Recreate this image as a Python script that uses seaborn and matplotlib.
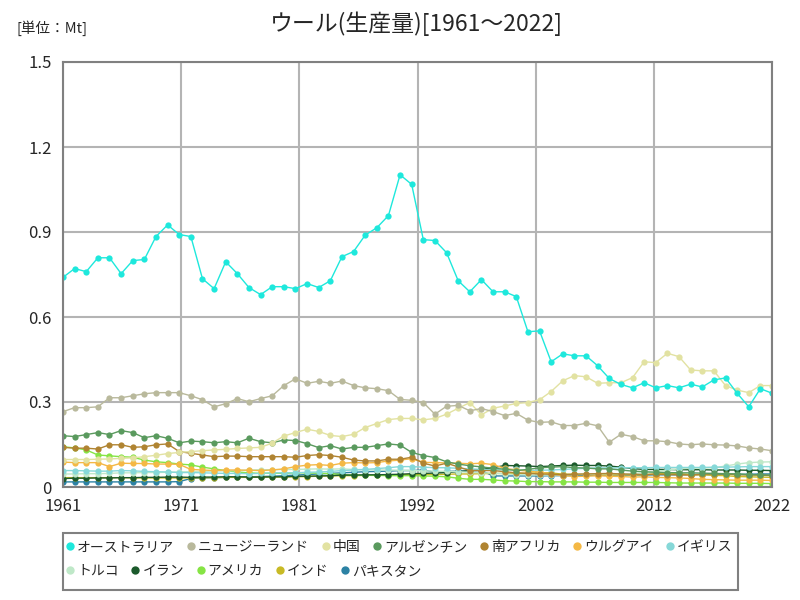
import numpy as np
import pandas as pd
import matplotlib
matplotlib.use("Agg")
import matplotlib.pyplot as plt
from matplotlib.lines import Line2D
from matplotlib.patches import Rectangle
import seaborn as sns

years = list(range(1961, 2023))

countries = ['オーストラリア', 'ニュージーランド', '中国', 'アルゼンチン', '南アフリカ', 'ウルグアイ',
             'イギリス', 'トルコ', 'イラン', 'アメリカ', 'インド', 'パキスタン']
colors = ['#1ee8dc', '#b9b99c', '#e2e2a2', '#5a9a5e', '#b08432', '#f4b845',
          '#86d8d8', '#bfe8c8', '#1c5a2c', '#86e444', '#c8ba26', '#2c82a4']

australia = [0.740, 0.771, 0.760, 0.809, 0.809, 0.753, 0.799, 0.803, 0.884, 0.925,
             0.891, 0.884, 0.735, 0.700, 0.795, 0.753, 0.704, 0.679, 0.707, 0.707,
             0.700, 0.718, 0.704, 0.728, 0.813, 0.831, 0.889, 0.915, 0.958, 1.102,
             1.068, 0.873, 0.870, 0.827, 0.728, 0.689, 0.732, 0.689, 0.689, 0.672,
             0.548, 0.551, 0.442, 0.470, 0.463, 0.463, 0.428, 0.383, 0.362, 0.350,
             0.368, 0.350, 0.358, 0.350, 0.363, 0.353, 0.378, 0.385, 0.331, 0.283,
             0.347, 0.331]
new_zealand = [0.266, 0.280, 0.280, 0.283, 0.315, 0.315, 0.322, 0.329, 0.333, 0.333,
               0.333, 0.322, 0.308, 0.283, 0.294, 0.312, 0.301, 0.312, 0.322, 0.358,
               0.382, 0.366, 0.373, 0.366, 0.374, 0.358, 0.350, 0.347, 0.340, 0.309,
               0.306, 0.298, 0.257, 0.285, 0.288, 0.269, 0.277, 0.266, 0.252, 0.260,
               0.236, 0.228, 0.230, 0.217, 0.217, 0.225, 0.216, 0.158, 0.186, 0.178,
               0.163, 0.163, 0.160, 0.152, 0.149, 0.152, 0.149, 0.148, 0.145, 0.138,
               0.134, 0.128]
china = [0.097, 0.097, 0.097, 0.098, 0.099, 0.101, 0.103, 0.107, 0.112, 0.118,
         0.122, 0.125, 0.128, 0.131, 0.133, 0.136, 0.138, 0.140, 0.155, 0.180,
         0.192, 0.204, 0.196, 0.182, 0.178, 0.186, 0.210, 0.224, 0.238, 0.242,
         0.242, 0.237, 0.242, 0.257, 0.278, 0.298, 0.255, 0.278, 0.286, 0.295,
         0.298, 0.308, 0.337, 0.375, 0.393, 0.389, 0.366, 0.368, 0.368, 0.386,
         0.442, 0.439, 0.472, 0.460, 0.413, 0.410, 0.410, 0.358, 0.342, 0.333,
         0.358, 0.358]
argentina = [0.181, 0.178, 0.185, 0.192, 0.185, 0.199, 0.192, 0.174, 0.181, 0.172,
             0.156, 0.162, 0.160, 0.156, 0.160, 0.156, 0.172, 0.160, 0.156, 0.166,
             0.164, 0.153, 0.139, 0.146, 0.134, 0.140, 0.140, 0.146, 0.152, 0.148,
             0.122, 0.111, 0.104, 0.089, 0.081, 0.075, 0.071, 0.066, 0.063, 0.058,
             0.062, 0.068, 0.070, 0.072, 0.068, 0.067, 0.064, 0.064, 0.060, 0.056,
             0.054, 0.052, 0.051, 0.050, 0.050, 0.049, 0.048, 0.047, 0.046, 0.044,
             0.043, 0.042]
south_africa = [0.140, 0.137, 0.137, 0.134, 0.149, 0.149, 0.140, 0.142, 0.149, 0.152,
                0.125, 0.119, 0.113, 0.107, 0.109, 0.109, 0.107, 0.107, 0.107, 0.107,
                0.105, 0.111, 0.114, 0.111, 0.105, 0.095, 0.092, 0.092, 0.098, 0.098,
                0.105, 0.084, 0.074, 0.084, 0.071, 0.058, 0.058, 0.058, 0.054, 0.050,
                0.048, 0.046, 0.045, 0.044, 0.045, 0.046, 0.047, 0.048, 0.046, 0.045,
                0.044, 0.045, 0.044, 0.043, 0.042, 0.045, 0.047, 0.046, 0.043, 0.042,
                0.042, 0.040]
uruguay = [0.088, 0.086, 0.086, 0.086, 0.072, 0.084, 0.083, 0.083, 0.081, 0.081,
           0.080, 0.062, 0.060, 0.058, 0.060, 0.060, 0.059, 0.058, 0.060, 0.064,
           0.072, 0.077, 0.079, 0.076, 0.084, 0.086, 0.085, 0.086, 0.092, 0.095,
           0.100, 0.087, 0.086, 0.085, 0.084, 0.082, 0.084, 0.079, 0.066, 0.060,
           0.056, 0.052, 0.046, 0.040, 0.037, 0.038, 0.040, 0.038, 0.037, 0.035,
           0.036, 0.034, 0.033, 0.032, 0.030, 0.027, 0.026, 0.025, 0.024, 0.024,
           0.024, 0.023]
uk = [0.058, 0.058, 0.057, 0.056, 0.056, 0.058, 0.057, 0.055, 0.054, 0.053,
      0.051, 0.051, 0.050, 0.049, 0.048, 0.048, 0.047, 0.048, 0.050, 0.050,
      0.050, 0.052, 0.053, 0.055, 0.058, 0.060, 0.062, 0.065, 0.068, 0.072,
      0.072, 0.070, 0.068, 0.068, 0.066, 0.064, 0.062, 0.061, 0.060, 0.062,
      0.058, 0.059, 0.060, 0.062, 0.064, 0.066, 0.068, 0.067, 0.068, 0.068,
      0.068, 0.069, 0.069, 0.069, 0.069, 0.069, 0.070, 0.070, 0.071, 0.072,
      0.072, 0.072]
turkey = [0.046, 0.046, 0.047, 0.047, 0.048, 0.050, 0.050, 0.051, 0.051, 0.052,
          0.053, 0.054, 0.055, 0.056, 0.057, 0.058, 0.060, 0.061, 0.061, 0.062,
          0.062, 0.063, 0.064, 0.063, 0.064, 0.062, 0.061, 0.060, 0.060, 0.059,
          0.058, 0.057, 0.056, 0.055, 0.054, 0.052, 0.050, 0.049, 0.046, 0.044,
          0.043, 0.042, 0.042, 0.043, 0.044, 0.045, 0.046, 0.047, 0.047, 0.047,
          0.050, 0.054, 0.060, 0.064, 0.066, 0.067, 0.068, 0.074, 0.081, 0.086,
          0.088, 0.089]
iran = [0.030, 0.031, 0.031, 0.032, 0.032, 0.033, 0.033, 0.034, 0.034, 0.035,
        0.035, 0.034, 0.035, 0.035, 0.036, 0.036, 0.035, 0.035, 0.036, 0.036,
        0.038, 0.038, 0.039, 0.040, 0.042, 0.042, 0.043, 0.043, 0.044, 0.045,
        0.047, 0.048, 0.049, 0.051, 0.054, 0.058, 0.062, 0.068, 0.076, 0.075,
        0.074, 0.072, 0.074, 0.076, 0.077, 0.076, 0.076, 0.074, 0.070, 0.065,
        0.062, 0.062, 0.062, 0.061, 0.061, 0.061, 0.060, 0.060, 0.060, 0.059,
        0.059, 0.058]
usa = [0.142, 0.138, 0.131, 0.113, 0.110, 0.107, 0.105, 0.095, 0.089, 0.086,
       0.081, 0.078, 0.070, 0.064, 0.058, 0.053, 0.050, 0.048, 0.049, 0.048,
       0.050, 0.050, 0.049, 0.047, 0.044, 0.042, 0.041, 0.041, 0.040, 0.040,
       0.040, 0.039, 0.038, 0.036, 0.031, 0.027, 0.027, 0.025, 0.022, 0.021,
       0.019, 0.019, 0.018, 0.018, 0.018, 0.017, 0.017, 0.016, 0.016, 0.016,
       0.016, 0.016, 0.015, 0.014, 0.014, 0.014, 0.014, 0.014, 0.013, 0.013,
       0.013, 0.012]
india = [0.033, 0.033, 0.033, 0.033, 0.033, 0.033, 0.032, 0.032, 0.032, 0.032,
         0.032, 0.032, 0.033, 0.033, 0.034, 0.034, 0.034, 0.035, 0.035, 0.035,
         0.036, 0.037, 0.038, 0.039, 0.040, 0.040, 0.041, 0.042, 0.043, 0.043,
         0.044, 0.044, 0.044, 0.045, 0.046, 0.046, 0.047, 0.048, 0.048, 0.048,
         0.049, 0.050, 0.050, 0.045, 0.045, 0.045, 0.044, 0.043, 0.043, 0.043,
         0.043, 0.047, 0.047, 0.048, 0.043, 0.043, 0.041, 0.040, 0.037, 0.036,
         0.035, 0.034]
pakistan = [0.018, 0.018, 0.018, 0.018, 0.018, 0.018, 0.018, 0.018, 0.018, 0.018,
            0.019, 0.030, 0.032, 0.033, 0.034, 0.035, 0.036, 0.037, 0.038, 0.040,
            0.042, 0.044, 0.046, 0.048, 0.050, 0.052, 0.054, 0.055, 0.056, 0.058,
            0.058, 0.060, 0.052, 0.055, 0.056, 0.057, 0.058, 0.039, 0.039, 0.039,
            0.039, 0.039, 0.040, 0.040, 0.041, 0.041, 0.041, 0.042, 0.042, 0.042,
            0.042, 0.043, 0.043, 0.043, 0.044, 0.044, 0.044, 0.045, 0.045, 0.045,
            0.046, 0.046]

series = [australia, new_zealand, china, argentina, south_africa, uruguay,
          uk, turkey, iran, usa, india, pakistan]

xtick_labels = ['1961', '1971', '1981', '1992', '2002', '2012', '2022']

# long format table for seaborn
rows = []
for name, vals in zip(countries, series):
    for y, v in zip(years, vals):
        rows.append((name, y, v))
df = pd.DataFrame(rows, columns=['country', 'year', 'value'])

sns.set_style('white')
plt.rcParams['font.family'] = ['Noto Sans CJK JP', 'DejaVu Sans']

fig = plt.figure(figsize=(8, 6), dpi=100)
ax = fig.add_axes([63/800, 1-487/600, 709/800, 425/600])

# draw the big series last so it stays on top
for name, c in reversed(list(zip(countries, colors))):
    sns.lineplot(data=df[df['country'] == name], x='year', y='value', color=c,
                 marker='o', markersize=4.5, markeredgewidth=0, linewidth=1,
                 ax=ax, legend=False)

ax.set_xlim(1961, 2022)
ax.set_ylim(0, 1.5)
ax.set_xticks(np.linspace(1961, 2022, 7))
ax.set_xticklabels(xtick_labels)
ax.set_yticks([0, 0.3, 0.6, 0.9, 1.2, 1.5])
ax.set_yticklabels(['0', '0.3', '0.6', '0.9', '1.2', '1.5'])
ax.tick_params(length=0, labelsize=12, pad=8)
ax.set_xlabel('')
ax.set_ylabel('')
ax.grid(True, color='#b4b4b4', linewidth=1.5)
for s in ax.spines.values():
    s.set_color('#808080')
    s.set_linewidth(1.5)

fig.text(0.52, 1-24/600, 'ウール(生産量)[1961～2022]', fontsize=16.5,
         ha='center', va='center')
fig.text(17/800, 1-28/600, '[単位：Mt]', fontsize=10.5, ha='left', va='center')

# legend in two flowing rows inside one frame
def handles(idx):
    return [Line2D([], [], marker='o', linestyle='', color=colors[i],
                   markersize=6, markeredgewidth=0) for i in idx]

leg_kw = dict(frameon=False, fontsize=10, handlelength=0.6, handletextpad=0.2,
              columnspacing=0.9, borderaxespad=0, borderpad=0)
r1 = list(range(7))
r2 = list(range(7, 12))
fig.legend(handles(r1), [countries[i] for i in r1], ncol=7, loc='upper left',
           bbox_to_anchor=(66/800, 1-540/600), **leg_kw)
fig.legend(handles(r2), [countries[i] for i in r2], ncol=5, loc='upper left',
           bbox_to_anchor=(66/800, 1-564/600), **leg_kw)
fig.patches.append(Rectangle((63/800, 1-590/600), 675/800, 57/600,
                             transform=fig.transFigure, fill=False,
                             edgecolor='#808080', linewidth=1.5))

fig.savefig('out.png', dpi=100)
